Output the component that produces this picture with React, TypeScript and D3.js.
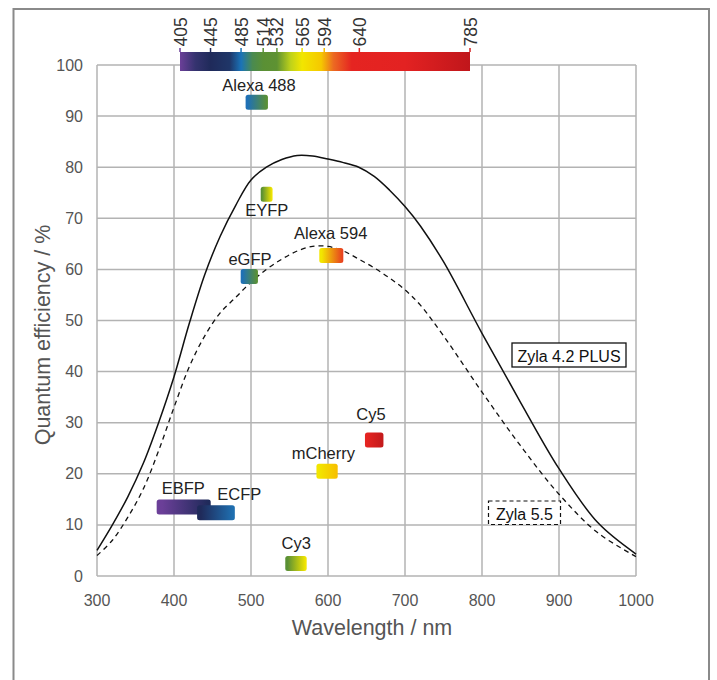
import React from "react";
import * as d3 from "d3";

// ---------- data ----------
const wavelengths = [300, 320, 340, 360, 380, 400, 420, 440, 460, 480, 500, 520, 540, 560, 580, 600, 620, 640, 660, 680, 700, 720, 750, 800, 850, 900, 950, 1000];
const zyla42 = [5, 10, 15.5, 22, 30, 39, 49.5, 59, 66.5, 72.5, 77.5, 80, 81.5, 82.3, 82.2, 81.6, 80.9, 80, 78.2, 75.5, 72.3, 68.5, 61.5, 47.5, 34, 21, 10.5, 4.3];
const zyla55 = [4, 7, 11.5, 17, 24.5, 33, 41, 47, 51.5, 54.5, 57.5, 60, 62, 63.6, 64.5, 64.5, 63.6, 62, 60.3, 58.3, 56, 53, 47, 36, 25.5, 16, 8.5, 3.8];

const xTicks = [300, 400, 500, 600, 700, 800, 900, 1000];
const yTicks = [0, 10, 20, 30, 40, 50, 60, 70, 80, 90, 100];

const barTicks = [405, 445, 485, 514, 532, 565, 594, 640, 785];
const barTickColors = ["#6b3f98", "#1f2a5a", "#1a73b8", "#5a9035", "#5e9232", "#f2e600", "#f5c000", "#e52421", "#d31f1f"];
const barStopWl = [405, 425, 445, 470, 485, 500, 514, 532, 550, 565, 590, 606, 630, 700, 785];
const barStopColors = ["#6b3f98", "#35336f", "#1f2a5a", "#1f3668", "#1a73b8", "#4a8a50", "#5a9035", "#5e9232", "#bfd21a", "#f2e600", "#f5c800", "#ec6a22", "#e52421", "#e32222", "#c0161b"];

// fluorophores: name, wavelength range (x0,x1), QE at centre, label anchor (wl, QE), gradient colours
const fluorNames = ["Alexa 488", "EYFP", "eGFP", "Alexa 594", "Cy5", "mCherry", "EBFP", "ECFP", "Cy3"];
const fluorX0 = [493, 512.6, 486.6, 588.7, 648, 585, 377.5, 430, 544.5];
const fluorX1 = [522, 528, 509, 619.9, 672, 612.6, 447.7, 479, 572.3];
const fluorQE = [92.7, 74.7, 58.6, 62.7, 26.6, 20.5, 13.5, 12.4, 2.45];
const labelWl = [510.4, 520.4, 498.7, 603.5, 655.8, 594, 412, 484.8, 558.7];
const labelQE = [94.9, 70.4, 60.9, 65.9, 30.5, 22.8, 16, 14.8, 5.2];
const fluorC0 = ["#1f70b5", "#5a9035", "#1f70b5", "#f2e600", "#e52421", "#f2e600", "#6b3f98", "#1f2a5a", "#5a9035"];
const fluorC1 = ["#5a9035", "#f2e600", "#5a9035", "#e8431f", "#c41a1b", "#f7c000", "#1f2a5a", "#1f6fb0", "#f2e600"];

const seriesNames = ["Zyla 4.2 PLUS", "Zyla 5.5"];

// ---------- layout ----------
const W = 717;
const H = 680;
const FONT = "'Liberation Sans', Arial, Helvetica, sans-serif";

export default function App() {
  const x = d3.scaleLinear().domain([300, 1000]).range([97, 636]);
  const y = d3.scaleLinear().domain([0, 100]).range([576, 65]);
  const xb = d3.scaleLinear().domain([405, 785]).range([180, 470]);

  const line = (vals: number[]) =>
    d3
      .line<number>()
      .x((_, i) => x(wavelengths[i]))
      .y((d) => y(d))
      .curve(d3.curveCatmullRom.alpha(0.5))(vals) as string;

  const grid = "#b3b3b3";
  const tickColor = "#555";
  const rectH = 15;

  return (
    <svg
      width={W}
      height={H}
      style={{ position: "absolute", left: 0, top: 0, background: "#fff" }}
      fontFamily={FONT}
    >
      <defs>
        <linearGradient id="barGrad" x1="0" x2="1" y1="0" y2="0">
          {barStopWl.map((w, i) => (
            <stop key={i} offset={(w - 405) / (785 - 405)} stopColor={barStopColors[i]} />
          ))}
        </linearGradient>
        {fluorNames.map((n, i) => (
          <linearGradient key={n} id={`fg${i}`} x1="0" x2="1" y1="0" y2="0">
            <stop offset="0.1" stopColor={fluorC0[i]} />
            <stop offset="0.95" stopColor={fluorC1[i]} />
          </linearGradient>
        ))}
      </defs>

      {/* outer frame */}
      <rect x={13.5} y={9} width={695.5} height={690} fill="none" stroke="#8a8a8a" strokeWidth={2} />

      {/* grid */}
      {xTicks.map((t) => (
        <line key={"gx" + t} x1={x(t)} x2={x(t)} y1={y(0)} y2={y(100)} stroke={grid} strokeWidth={1.5} />
      ))}
      {yTicks.map((t) => (
        <line key={"gy" + t} x1={x(300)} x2={x(1000)} y1={y(t)} y2={y(t)} stroke={grid} strokeWidth={1.5} />
      ))}

      {/* tick labels */}
      {xTicks.map((t) => (
        <text key={"xl" + t} x={x(t)} y={606} textAnchor="middle" fontSize={16} fill={tickColor}>
          {t}
        </text>
      ))}
      {yTicks.map((t) => (
        <text key={"yl" + t} x={83} y={y(t) + 5.5} textAnchor="end" fontSize={16} fill={tickColor}>
          {t}
        </text>
      ))}

      {/* axis titles */}
      <text x={372} y={635} textAnchor="middle" fontSize={21.5} fill={tickColor}>
        Wavelength / nm
      </text>
      <text
        transform={`translate(50, ${335}) rotate(-90)`}
        textAnchor="middle"
        fontSize={21.5}
        fill={tickColor}
      >
        Quantum efficiency / %
      </text>

      {/* colour bar */}
      <rect x={xb(405)} y={52} width={xb(785) - xb(405)} height={19} fill="url(#barGrad)" />
      {barTicks.map((t, i) => (
        <g key={"bt" + t}>
          <line x1={xb(t)} x2={xb(t)} y1={48} y2={52} stroke={barTickColors[i]} strokeWidth={1.5} />
          <text
            transform={`translate(${xb(t) + 6.5}, 46.5) rotate(-90)`}
            textAnchor="start"
            fontSize={17.5}
            fill="#333"
          >
            {t}
          </text>
        </g>
      ))}

      {/* QE curves */}
      <path d={line(zyla42)} fill="none" stroke="#111" strokeWidth={1.5} />
      <path d={line(zyla55)} fill="none" stroke="#111" strokeWidth={1.3} strokeDasharray="5,4" />

      {/* fluorophores */}
      {fluorNames.map((n, i) => (
        <g key={n}>
          <rect
            x={x(fluorX0[i])}
            y={y(fluorQE[i]) - rectH / 2}
            width={x(fluorX1[i]) - x(fluorX0[i])}
            height={rectH}
            rx={2.5}
            fill={`url(#fg${i})`}
          />
          <text x={x(labelWl[i])} y={y(labelQE[i])} textAnchor="middle" fontSize={16.5} fill="#222">
            {n}
          </text>
        </g>
      ))}

      {/* series legend boxes */}
      <rect x={512} y={343} width={114} height={24} fill="#fff" stroke="#111" strokeWidth={1.3} />
      <text x={569} y={361.5} textAnchor="middle" fontSize={16} fill="#111">
        {seriesNames[0]}
      </text>
      <rect x={488.5} y={501} width={72} height={23.5} fill="#fff" stroke="#111" strokeWidth={1.2} strokeDasharray="4,3" />
      <text x={524.5} y={519.5} textAnchor="middle" fontSize={16} fill="#111">
        {seriesNames[1]}
      </text>
    </svg>
  );
}
